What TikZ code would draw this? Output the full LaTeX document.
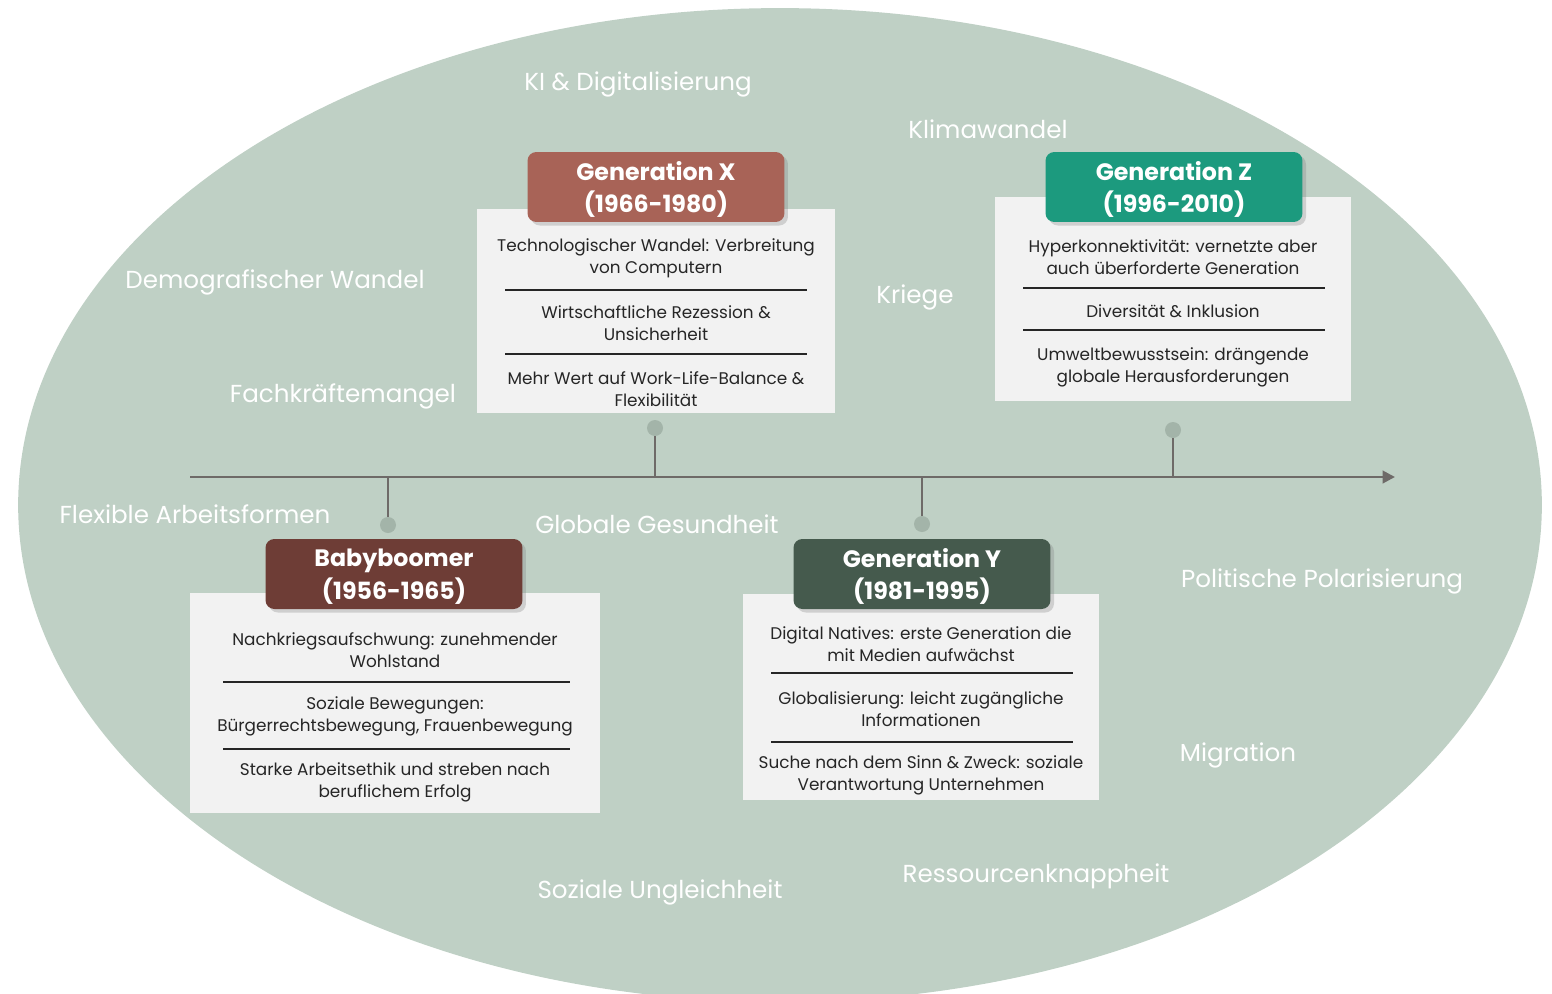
\documentclass[tikz,border=0pt]{standalone}
\usepackage{fontspec}
\setmainfont{Poppins}
\usetikzlibrary{positioning, shadows, arrows.meta}
\definecolor{sage}{HTML}{BFD0C5}
\definecolor{dotgray}{HTML}{A3B4A9}
\definecolor{axisgray}{HTML}{6E6A68}
\definecolor{panel}{HTML}{F2F2F2}
\definecolor{bodytext}{HTML}{262626}
\definecolor{boomer}{HTML}{6E3D36}
\definecolor{genx}{HTML}{A86357}
\definecolor{geny}{HTML}{455A4D}
\definecolor{genz}{HTML}{1C9A7E}
\tikzset{
  header/.style={rounded corners=5pt, text=white, align=center,
    font=\bfseries\fontsize{13.5}{18.5}\selectfont, text depth=-1.5pt,
    minimum width=5.14cm, minimum height=1.4cm, inner sep=0pt,
    drop shadow={shadow xshift=2pt, shadow yshift=-2pt, opacity=0.3}},
  panelbox/.style={fill=panel, inner sep=0pt},
  item/.style={align=center, text=bodytext, font=\fontsize{9.6}{12.5}\selectfont},
  sepline/.style={bodytext, line width=0.6pt},
  outer/.style={text=white, font=\fontsize{14}{16}\selectfont, yshift=-1.6pt},
  tldot/.style={circle, fill=dotgray, minimum size=0.32cm, inner sep=0pt},
  axis/.style={axisgray, line width=1.6pt}
}
\begin{document}
\begin{tikzpicture}[x=0.02cm, y=-0.02cm]
            \useasboundingbox (0,0) rectangle (1552,994);
            \fill[sage] (780,505) ellipse [x radius=15.24cm, y radius=9.94cm];
            % outer topics
            \node[outer] (ki) at (638,82) {KI \& Digitalisierung};
            \node[outer] (klima) at (988,126) {Klimawandel};
            \node[outer] (demo) at (275,280) {Demografischer Wandel};
            \node[outer] (krieg) at (915,295) {Kriege};
            \node[outer] (fach) at (343,394) {Fachkräftemangel};
            \node[outer] (flex) at (195,511) {Flexible Arbeitsformen};
            \node[outer] (gesund) at (657,521) {Globale Gesundheit};
            \node[outer] (polar) at (1322,579) {Politische Polarisierung};
            \node[outer] (migr) at (1238,753) {Migration};
            \node[outer] (ress) at (1036,874) {Ressourcenknappheit};
            \node[outer] (ungl) at (660,890) {Soziale Ungleichheit};
            % timeline
            \coordinate (tlstart) at (190,477);
            \coordinate (tlend) at (1395,477);
            \draw[axis, -{Triangle[length=7pt, width=7pt]}] (tlstart) -- (tlend);
            \node[tldot] (dotbb) at (388,525) {};
            \node[tldot] (dotx) at (655,428) {};
            \node[tldot] (doty) at (922,524) {};
            \node[tldot] (dotz) at (1173,430) {};
            \draw[axis] (dotbb.north) -- (dotbb |- tlstart);
            \draw[axis] (dotx.south) -- (dotx |- tlstart);
            \draw[axis] (doty.north) -- (doty |- tlstart);
            \draw[axis] (dotz.south) -- (dotz |- tlstart);
            % Generation X
            \node[panelbox, minimum width=7.16cm, minimum height=4.08cm] (panelx) at (656,311) {};
            \node[header, fill=genx] (headx) at (656,187) {Generation X\\(1966-1980)};
            \node[item] (x1) at (656,258) {Technologischer Wandel: Verbreitung\\von Computern};
            \node[item] (x2) at (656,323) {Wirtschaftliche Rezession \&\\Unsicherheit};
            \node[item] (x3) at (656,389) {Mehr Wert auf Work-Life-Balance \&\\Flexibilität};
            \draw[sepline] (505,290) -- (807,290);
            \draw[sepline] (505,354) -- (807,354);
            % Generation Z
            \node[panelbox, minimum width=7.14cm, minimum height=4.08cm] (panelz) at (1173,299) {};
            \node[header, fill=genz] (headz) at (1174,187) {Generation Z\\(1996-2010)};
            \node[item] (z1) at (1173,257) {Hyperkonnektivität: vernetzte aber\\auch überforderte Generation};
            \node[item] (z2) at (1173,311) {Diversität \& Inklusion};
            \node[item] (z3) at (1173,367) {Umweltbewusstsein: drängende\\globale Herausforderungen};
            \draw[sepline] (1023,288) -- (1325,288);
            \draw[sepline] (1023,330) -- (1325,330);
            % Babyboomer
            \node[panelbox, minimum width=8.22cm, minimum height=4.4cm] (panelbb) at (395,703) {};
            \node[header, fill=boomer] (headbb) at (394,574) {Babyboomer\\(1956-1965)};
            \node[item] (b1) at (395,650) {Nachkriegsaufschwung: zunehmender\\Wohlstand};
            \node[item] (b2) at (395,716) {Soziale Bewegungen:\\Bürgerrechtsbewegung, Frauenbewegung};
            \node[item] (b3) at (395,782) {Starke Arbeitsethik und streben nach\\beruflichem Erfolg};
            \draw[sepline] (223,682) -- (570,682);
            \draw[sepline] (223,749) -- (570,749);
            % Generation Y
            \node[panelbox, minimum width=7.14cm, minimum height=4.12cm] (panely) at (921,697) {};
            \node[header, fill=geny] (heady) at (922,574) {Generation Y\\(1981-1995)};
            \node[item] (y1) at (921,644) {Digital Natives: erste Generation die\\mit Medien aufwächst};
            \node[item] (y2) at (921,709) {Globalisierung: leicht zugängliche\\Informationen};
            \node[item] (y3) at (921,775) {Suche nach dem Sinn \& Zweck: soziale\\Verantwortung Unternehmen};
            \draw[sepline] (771,673) -- (1073,673);
            \draw[sepline] (771,742) -- (1073,742);
\end{tikzpicture}
\end{document}
